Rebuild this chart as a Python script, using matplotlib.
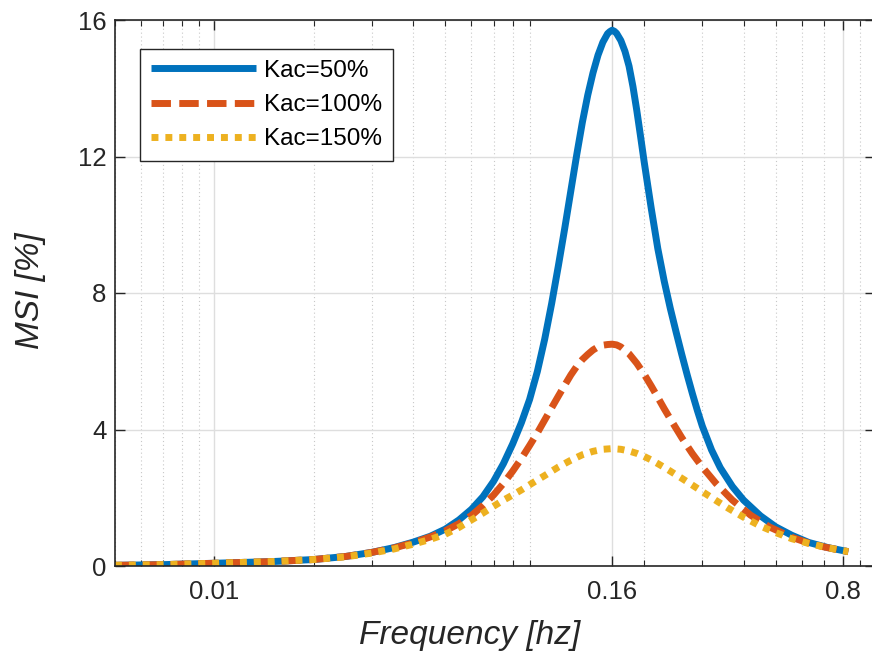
import matplotlib
matplotlib.use("Agg")
import matplotlib.pyplot as plt
from matplotlib.ticker import FixedLocator, FixedFormatter, LogLocator, NullFormatter

# ── data ──────────────────────────────────────────────────────────────────
freq_50 = [0.005, 0.007, 0.01, 0.015, 0.02, 0.025, 0.03, 0.035, 0.04, 0.045,
           0.05, 0.055, 0.06, 0.065, 0.07, 0.075, 0.08, 0.085, 0.09, 0.095,
           0.10, 0.105, 0.11, 0.115, 0.12, 0.125, 0.13, 0.135, 0.14, 0.145,
           0.15, 0.155, 0.1575, 0.16, 0.1625, 0.165, 0.17, 0.175, 0.18, 0.185,
           0.19, 0.195, 0.20, 0.21, 0.22, 0.23, 0.24, 0.25, 0.26, 0.27,
           0.28, 0.29, 0.30, 0.32, 0.34, 0.37, 0.40, 0.45, 0.50, 0.56,
           0.63, 0.72, 0.83]
msi_50 = [0.02, 0.04, 0.08, 0.13, 0.19, 0.28, 0.40, 0.54, 0.70, 0.87,
          1.08, 1.35, 1.66, 2.03, 2.48, 3.00, 3.58, 4.20, 4.88, 5.70,
          6.65, 7.70, 8.80, 9.90, 11.0, 12.05, 13.0, 13.8, 14.45, 14.97,
          15.35, 15.6, 15.66, 15.7, 15.67, 15.61, 15.4, 15.08, 14.65, 14.05,
          13.35, 12.6, 11.85, 10.5, 9.30, 8.35, 7.55, 6.85, 6.20, 5.60,
          5.05, 4.55, 4.10, 3.40, 2.88, 2.33, 1.93, 1.47, 1.15, 0.90,
          0.69, 0.54, 0.42]

freq_100 = [0.005, 0.007, 0.01, 0.015, 0.02, 0.025, 0.03, 0.035, 0.04, 0.045,
            0.05, 0.055, 0.06, 0.065, 0.07, 0.075, 0.08, 0.085, 0.09, 0.095,
            0.10, 0.105, 0.11, 0.115, 0.12, 0.125, 0.13, 0.135, 0.14, 0.145,
            0.15, 0.155, 0.16, 0.165, 0.17, 0.18, 0.19, 0.20, 0.21, 0.22,
            0.23, 0.24, 0.25, 0.26, 0.27, 0.28, 0.30, 0.33, 0.37, 0.42,
            0.48, 0.56, 0.63, 0.70, 0.76, 0.83]
msi_100 = [0.02, 0.04, 0.08, 0.13, 0.19, 0.28, 0.40, 0.53, 0.68, 0.85,
           1.03, 1.24, 1.48, 1.77, 2.08, 2.42, 2.78, 3.15, 3.53, 3.90,
           4.28, 4.64, 4.98, 5.30, 5.60, 5.85, 6.05, 6.20, 6.33, 6.42,
           6.47, 6.49, 6.50, 6.48, 6.42, 6.22, 5.94, 5.62, 5.28, 4.94,
           4.61, 4.31, 4.03, 3.76, 3.52, 3.29, 2.90, 2.42, 1.93, 1.49,
           1.14, 0.84, 0.67, 0.56, 0.49, 0.42]

freq_150 = [0.005, 0.007, 0.01, 0.015, 0.02, 0.025, 0.03, 0.035, 0.04, 0.045,
            0.05, 0.055, 0.06, 0.065, 0.07, 0.075, 0.08, 0.085, 0.09, 0.095,
            0.10, 0.11, 0.12, 0.13, 0.14, 0.15, 0.16, 0.17, 0.18, 0.19,
            0.20, 0.21, 0.22, 0.23, 0.24, 0.25, 0.26, 0.28, 0.30, 0.33,
            0.36, 0.40, 0.45, 0.50, 0.56, 0.63, 0.70, 0.76, 0.83]
msi_150 = [0.02, 0.04, 0.08, 0.13, 0.19, 0.27, 0.38, 0.50, 0.64, 0.78,
           0.93, 1.13, 1.35, 1.55, 1.75, 1.93, 2.08, 2.23, 2.38, 2.52,
           2.65, 2.90, 3.10, 3.26, 3.36, 3.42, 3.44, 3.42, 3.37, 3.30,
           3.21, 3.11, 3.00, 2.89, 2.78, 2.67, 2.57, 2.37, 2.18, 1.92,
           1.69, 1.43, 1.17, 0.98, 0.80, 0.66, 0.56, 0.49, 0.42]

labels = ["Kac=50%", "Kac=100%", "Kac=150%"]
x_ticks = [0.01, 0.16, 0.8]
x_tick_labels = ["0.01", "0.16", "0.8"]
y_ticks = [0, 4, 8, 12, 16]

# MATLAB default colours
BLUE, ORANGE, YELLOW = "#0072BD", "#D95319", "#EDB120"
INK = "#262626"

plt.rcParams["font.family"] = ["Liberation Sans", "DejaVu Sans"]

fig = plt.figure(figsize=(8.72, 6.54), dpi=100)
ax = fig.add_axes([115 / 872, 88 / 654, 760 / 872, 546 / 654])

ax.plot(freq_50, msi_50, color=BLUE, lw=5, solid_capstyle="butt",
        solid_joinstyle="round", label=labels[0])
ax.plot(freq_100, msi_100, color=ORANGE, lw=5, dashes=(2.8, 1.2),
        dash_capstyle="butt", label=labels[1])
ax.plot(freq_150, msi_150, color=YELLOW, lw=5, dashes=(1.0, 1.0),
        dash_capstyle="butt", label=labels[2])

ax.set_xscale("log")
ax.set_xlim(0.005, 1.0)
ax.set_ylim(0, 16)

ax.xaxis.set_major_locator(FixedLocator(x_ticks))
ax.xaxis.set_major_formatter(FixedFormatter(x_tick_labels))
ax.xaxis.set_minor_locator(LogLocator(base=10, subs=range(2, 10), numticks=20))
ax.xaxis.set_minor_formatter(NullFormatter())
ax.set_yticks(y_ticks)

ax.tick_params(which="both", direction="in", top=True, right=True, colors=INK,
               labelsize=18.5)
ax.tick_params(which="major", length=7, width=1)
ax.tick_params(which="minor", length=4, width=0.8)
ax.tick_params(axis="x", pad=10)
ax.tick_params(axis="y", pad=6)

for sp in ax.spines.values():
    sp.set_color(INK)
    sp.set_linewidth(1.2)

ax.grid(which="major", color="#dedede", lw=1.0)
ax.grid(which="minor", axis="x", color="#c8c8c8", lw=0.8, linestyle=(0, (1, 2.5)))
ax.set_axisbelow(True)

ax.set_xlabel("Frequency [hz]", fontsize=24, style="italic", color=INK)
ax.set_ylabel("MSI [%]", fontsize=24, style="italic", color=INK)
ax.xaxis.set_label_coords(0.467, -0.099)
ax.yaxis.set_label_coords(-0.091, 0.505)

leg = ax.legend(loc="upper left", bbox_to_anchor=(0.033, 0.947), borderaxespad=0,
                fontsize=17.5, handlelength=4.3, handletextpad=0.33,
                labelspacing=0.5, borderpad=0.45, fancybox=False,
                framealpha=1, edgecolor=INK)
leg.get_frame().set_linewidth(1.0)

fig.savefig("out.png", dpi=100)
